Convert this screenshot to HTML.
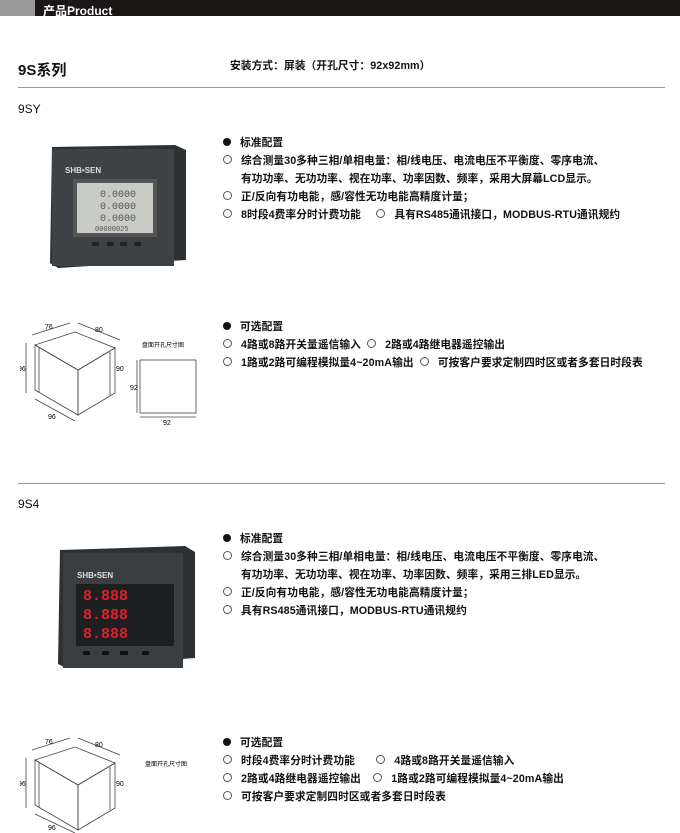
<!DOCTYPE html>
<html><head><meta charset="utf-8"><style>
body{margin:0;width:680px;height:833px;background:#fff;position:relative;overflow:hidden;font-family:"Liberation Sans","Noto Sans CJK SC",sans-serif;color:#111}
.a{position:absolute;white-space:nowrap}
.t{font-size:10.7px;font-weight:bold;letter-spacing:0.1px}
.c{display:inline-block;width:7px;height:7px;border:1px solid #555;border-radius:50%;margin-right:9px;vertical-align:0}
.f{display:inline-block;width:8px;height:8px;background:#111;border-radius:50%;margin-right:9px;vertical-align:0}
</style></head><body>
<div class="a" style="left:0;top:0;width:680px;height:16px;background:#1b1717"></div>
<div class="a" style="left:0;top:0;width:35px;height:16px;background:#9a9a9a"></div>
<div class="a" style="left:43px;top:2px;font-size:12px;color:#fff;font-weight:bold">产品Product</div>

<div class="a" style="left:18px;top:59px;font-size:15px;font-weight:bold">9S系列</div>
<div class="a t" style="left:230px;top:58px">安装方式：屏装（开孔尺寸：92x92mm）</div>
<div class="a" style="left:18px;top:87px;width:647px;height:1px;background:#999"></div>
<div class="a" style="left:18px;top:102px;font-size:12px">9SY</div>

<svg class="a" style="left:40px;top:135px" width="150" height="135">
<polygon points="12,12 135,10 146,15 146,125 18,133 10,128" fill="#2e3133"/>
<rect x="12" y="14" width="122" height="117" fill="#3f4244"/>
<text x="25" y="38" font-size="8" fill="#ddd" font-weight="bold" font-family="Liberation Sans">SHB•SEN</text>
<rect x="33" y="44" width="84" height="58" fill="#555"/>
<rect x="37" y="48" width="76" height="50" fill="#c9ccc6"/>
<text x="60" y="62" font-size="10" fill="#555" font-family="Liberation Mono">0.0000</text>
<text x="60" y="74" font-size="10" fill="#555" font-family="Liberation Mono">0.0000</text>
<text x="60" y="86" font-size="10" fill="#555" font-family="Liberation Mono">0.0000</text>
<text x="55" y="96" font-size="7" fill="#555" font-family="Liberation Mono">00000025</text>
<rect x="52" y="107" width="7" height="4" fill="#222"/><rect x="67" y="107" width="7" height="4" fill="#222"/><rect x="80" y="107" width="7" height="4" fill="#222"/><rect x="94" y="107" width="7" height="4" fill="#222"/>
</svg>

<div class="a t" style="left:223px;top:135px"><span class="f"></span>标准配置</div>
<div class="a t" style="left:223px;top:153px"><span class="c"></span>综合测量30多种三相/单相电量：相/线电压、电流电压不平衡度、零序电流、</div>
<div class="a t" style="left:241px;top:171px">有功功率、无功功率、视在功率、功率因数、频率，采用大屏幕LCD显示。</div>
<div class="a t" style="left:223px;top:189px"><span class="c"></span>正/反向有功电能，感/容性无功电能高精度计量；</div>
<div class="a t" style="left:223px;top:207px"><span class="c"></span>8时段4费率分时计费功能 &nbsp; &nbsp; <span class="c"></span>具有RS485通讯接口，MODBUS-RTU通讯规约</div>

<svg class="a" style="left:20px;top:315px" width="190" height="115" font-family="Liberation Sans" font-size="7">
<g fill="none" stroke="#444" stroke-width="0.8">
<polygon points="15,30 58,55 58,100 15,75" fill="#fff"/>
<polygon points="15,30 55,17 95,33 58,55"/>
<polygon points="58,55 95,33 95,78 58,100"/>
<line x1="19" y1="32" x2="19" y2="77"/>
<line x1="6" y1="28" x2="6" y2="78"/><line x1="90" y1="37" x2="90" y2="80" />
<line x1="12" y1="20" x2="50" y2="8"/><line x1="58" y1="8" x2="100" y2="25"/>
<line x1="15" y1="84" x2="55" y2="106"/>
<rect x="120" y="45" width="56" height="53"/>
<line x1="117" y1="45" x2="117" y2="98"/><line x1="120" y1="102" x2="176" y2="102"/>
</g>
<text x="25" y="14">76</text><text x="75" y="17">80</text><text x="-2" y="56">96</text><text x="96" y="56">90</text><text x="28" y="104">96</text><text x="110" y="75">92</text><text x="143" y="110">92</text>
<text x="122" y="32" font-size="6" font-family="Noto Sans CJK SC">盘面开孔尺寸图</text>
</svg>

<div class="a t" style="left:223px;top:319px"><span class="f"></span>可选配置</div>
<div class="a t" style="left:223px;top:337px"><span class="c"></span>4路或8路开关量遥信输入 &nbsp;<span class="c"></span>2路或4路继电器遥控输出</div>
<div class="a t" style="left:223px;top:355px"><span class="c"></span>1路或2路可编程模拟量4~20mA输出 &nbsp;<span class="c"></span>可按客户要求定制四时区或者多套日时段表</div>

<div class="a" style="left:18px;top:483px;width:647px;height:1px;background:#999"></div>
<div class="a" style="left:18px;top:497px;font-size:12px">9S4</div>

<svg class="a" style="left:50px;top:538px" width="145" height="132">
<polygon points="10,12 135,8 145,14 145,120 16,130 8,126" fill="#2e3133"/>
<rect x="13" y="15" width="120" height="115" fill="#3b3e40"/>
<text x="27" y="40" font-size="8" fill="#ddd" font-weight="bold" font-family="Liberation Sans">SHB•SEN</text>
<rect x="26" y="46" width="98" height="62" fill="#1e1f20"/>
<g font-family="Liberation Mono" font-size="15" fill="#e0202a" font-weight="bold">
<text x="33" y="62">8.888</text><text x="33" y="81">8.888</text><text x="33" y="100">8.888</text></g>
<rect x="33" y="113" width="7" height="4" fill="#111"/><rect x="52" y="113" width="7" height="4" fill="#111"/><rect x="70" y="113" width="8" height="4" fill="#111"/><rect x="92" y="113" width="7" height="4" fill="#111"/>
</svg>

<div class="a t" style="left:223px;top:531px"><span class="f"></span>标准配置</div>
<div class="a t" style="left:223px;top:549px"><span class="c"></span>综合测量30多种三相/单相电量：相/线电压、电流电压不平衡度、零序电流、</div>
<div class="a t" style="left:241px;top:567px">有功功率、无功功率、视在功率、功率因数、频率，采用三排LED显示。</div>
<div class="a t" style="left:223px;top:585px"><span class="c"></span>正/反向有功电能，感/容性无功电能高精度计量；</div>
<div class="a t" style="left:223px;top:603px"><span class="c"></span>具有RS485通讯接口，MODBUS-RTU通讯规约</div>

<svg class="a" style="left:20px;top:730px" width="190" height="103" font-family="Liberation Sans" font-size="7">
<g fill="none" stroke="#444" stroke-width="0.8">
<polygon points="15,30 58,55 58,100 15,75" fill="#fff"/>
<polygon points="15,30 55,17 95,33 58,55"/>
<polygon points="58,55 95,33 95,78 58,100"/>
<line x1="19" y1="32" x2="19" y2="77"/>
<line x1="6" y1="28" x2="6" y2="78"/><line x1="90" y1="37" x2="90" y2="80"/>
<line x1="12" y1="20" x2="50" y2="8"/><line x1="58" y1="8" x2="100" y2="25"/>
<line x1="15" y1="84" x2="55" y2="103"/>
</g>
<text x="25" y="14">76</text><text x="75" y="17">80</text><text x="-2" y="56">96</text><text x="96" y="56">90</text><text x="28" y="100">96</text>
<text x="125" y="36" font-size="6" font-family="Noto Sans CJK SC">盘面开孔尺寸图</text>
</svg>

<div class="a t" style="left:223px;top:735px"><span class="f"></span>可选配置</div>
<div class="a t" style="left:223px;top:753px"><span class="c"></span>时段4费率分时计费功能 &nbsp; &nbsp; &nbsp; <span class="c"></span>4路或8路开关量遥信输入</div>
<div class="a t" style="left:223px;top:771px"><span class="c"></span>2路或4路继电器遥控输出 &nbsp; &nbsp;<span class="c"></span>1路或2路可编程模拟量4~20mA输出</div>
<div class="a t" style="left:223px;top:789px"><span class="c"></span>可按客户要求定制四时区或者多套日时段表</div>
</body></html>
